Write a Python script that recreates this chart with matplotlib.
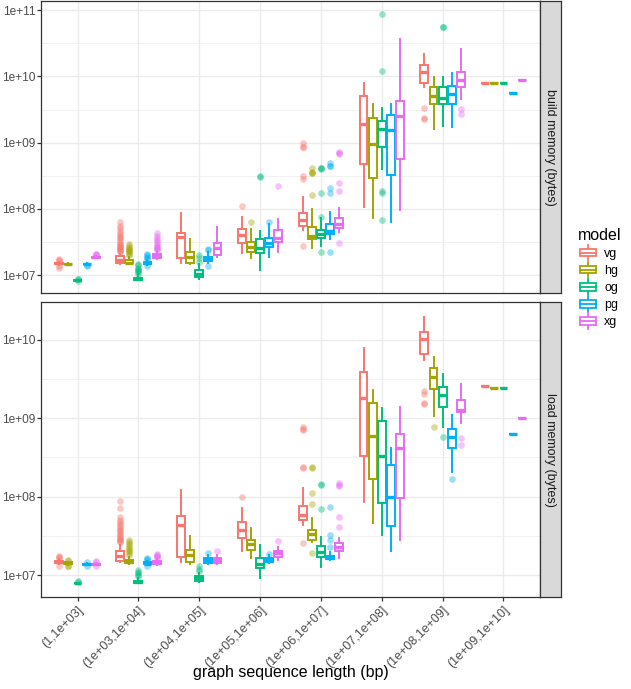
import matplotlib
matplotlib.use("Agg")
import matplotlib.pyplot as plt
import numpy as np
from matplotlib.patches import Rectangle, Patch
from matplotlib.lines import Line2D
from matplotlib.legend_handler import HandlerBase
from matplotlib.ticker import FixedLocator, NullFormatter

plt.rcParams['font.family'] = ['Liberation Sans', 'DejaVu Sans']

bins = ["(1,1e+03]", "(1e+03,1e+04]", "(1e+04,1e+05]", "(1e+05,1e+06]",
        "(1e+06,1e+07]", "(1e+07,1e+08]", "(1e+08,1e+09]", "(1e+09,1e+10]"]
models = ["vg", "hg", "og", "pg", "xg"]
colors = ["#F8766D", "#A3A500", "#00BF7D", "#00B0F6", "#E76BF3"]

# each box: (whisker low, q1, median, q3, whisker high), one per bin
build_vg = [(1.42e7, 1.45e7, 1.5e7, 1.55e7, 1.6e7), (1.45e7, 1.5e7, 1.7e7, 1.93e7, 2.1e7),
            (1.5e7, 1.8e7, 3.75e7, 4.4e7, 8.7e7), (2.15e7, 3.1e7, 4e7, 4.9e7, 7.5e7),
            (4.8e7, 5.5e7, 6.8e7, 8.7e7, 1.5e8), (1.07e8, 4.7e8, 1.9e9, 5e9, 8.1e9),
            (6.9e9, 8.1e9, 1.15e10, 1.48e10, 2.2e10), (7.9e9, 7.9e9, 7.9e9, 7.9e9, 7.9e9)]
build_vg_out = [[1.65e7, 1.7e7, 1.75e7, 1.35e7, 1.3e7],
                [2.2e7, 2.3e7, 2.4e7, 2.5e7, 2.6e7, 2.7e7, 2.8e7, 2.9e7, 3.0e7, 3.2e7,
                 3.4e7, 3.6e7, 3.8e7, 4.0e7, 4.3e7, 4.7e7, 5.1e7, 5.5e7, 6.3e7],
                [], [1.1e8], [9.8e8, 8.5e8, 8.6e8, 3.1e8, 2.8e8, 2.8e7], [],
                [3.3e9, 2.3e9, 2.35e9], []]

build_hg = [(1.45e7, 1.46e7, 1.47e7, 1.48e7, 1.5e7), (1.45e7, 1.5e7, 1.55e7, 1.7e7, 1.9e7),
            (1.47e7, 1.5e7, 1.87e7, 2.2e7, 3.5e7), (1.8e7, 2.2e7, 2.65e7, 3.15e7, 4.9e7),
            (2.55e7, 3.5e7, 3.9e7, 5.3e7, 1e8), (7.2e7, 2.9e8, 9.6e8, 2.4e9, 3.8e9),
            (1.6e9, 3.8e9, 5.1e9, 6.9e9, 9.8e9), (7.9e9, 7.9e9, 7.9e9, 7.9e9, 7.9e9)]
build_hg_out = [[], [2.0e7, 2.1e7, 2.2e7, 2.3e7, 2.4e7, 2.5e7, 2.6e7, 2.8e7, 3.0e7],
                [], [6.3e7], [4.1e8, 3.5e8, 3.55e8, 3.45e8, 1.65e8], [], [], []]

build_og = [(8.2e6, 8.25e6, 8.3e6, 8.35e6, 8.4e6), (8.3e6, 8.4e6, 8.7e6, 9.2e6, 1.0e7),
            (8.7e6, 9.3e6, 1.03e7, 1.2e7, 1.45e7), (1.2e7, 2.15e7, 2.55e7, 3.5e7, 4.6e7),
            (2.8e7, 3.7e7, 4.2e7, 4.8e7, 7.2e7), (4e8, 8.5e8, 1.6e9, 2.1e9, 3.3e9),
            (1.8e9, 3.8e9, 4.8e9, 6.9e9, 9.8e9), (7.9e9, 7.9e9, 7.9e9, 7.9e9, 7.9e9)]
build_og_out = [[8.6e6, 8.8e6, 8.1e6],
                [1.05e7, 1.1e7, 1.15e7, 1.2e7, 1.25e7, 1.3e7, 1.4e7, 1.45e7],
                [2e7, 1.8e7, 1.6e7], [3.1e8, 3.05e8],
                [4.1e8, 4.15e8, 4.05e8, 1.75e8, 7.5e7, 2.2e7],
                [8.9e10, 1.23e10, 1.86e8, 1.74e8, 6.8e7], [5.5e10, 5.6e10], []]

build_pg = [(1.43e7, 1.45e7, 1.47e7, 1.49e7, 1.5e7), (1.4e7, 1.45e7, 1.5e7, 1.6e7, 1.7e7),
            (1.5e7, 1.62e7, 1.74e7, 1.87e7, 2.2e7), (1.87e7, 2.65e7, 3.05e7, 3.7e7, 6e7),
            (3.5e7, 4.2e7, 4.6e7, 5.9e7, 8.9e7), (6.3e7, 3.2e8, 1.55e9, 2.6e9, 3.9e9),
            (1.7e9, 3.8e9, 5.4e9, 7.1e9, 1.12e10), (5.6e9, 5.6e9, 5.6e9, 5.6e9, 5.6e9)]
build_pg_out = [[1.38e7, 1.4e7], [1.35e7, 1.75e7, 1.8e7, 1.9e7, 2.0e7, 2.1e7],
                [2.5e7, 2.4e7, 1.38e7], [6.3e7],
                [4.9e8, 4.4e8, 4.5e8, 2.05e8, 1.75e8, 2.2e7], [], [], []]

build_xg = [(1.8e7, 1.83e7, 1.87e7, 1.9e7, 1.93e7), (1.75e7, 1.8e7, 1.95e7, 2.1e7, 2.3e7),
            (1.87e7, 2e7, 2.55e7, 3.05e7, 5.3e7), (2.2e7, 3.15e7, 3.7e7, 4.8e7, 7e7),
            (4.5e7, 5.1e7, 6e7, 7.4e7, 1.03e8), (9.6e7, 5.6e8, 2.5e9, 4.2e9, 3.7e10),
            (4.5e9, 6.9e9, 8.7e9, 1.15e10, 2.6e10), (8.7e9, 8.7e9, 8.7e9, 8.7e9, 8.7e9)]
build_xg_out = [[2.0e7, 2.05e7, 2.1e7],
                [2.4e7, 2.5e7, 2.6e7, 2.7e7, 2.8e7, 3.0e7, 3.2e7, 3.4e7, 3.6e7, 3.9e7, 4.3e7],
                [], [2.2e8], [7.2e8, 6.8e8, 6.9e8, 2.45e8, 1.85e8, 3.05e7], [],
                [3.2e9, 2.75e9], []]

load_vg = [(1.38e7, 1.42e7, 1.47e7, 1.52e7, 1.6e7), (1.45e7, 1.5e7, 1.75e7, 2.0e7, 2.4e7),
           (1.47e7, 1.7e7, 4.3e7, 5.6e7, 1.2e8), (2.0e7, 3.0e7, 3.7e7, 4.7e7, 7.1e7),
           (4.3e7, 5.0e7, 5.8e7, 7.6e7, 1.3e8), (8.5e7, 3.3e8, 1.8e9, 3.9e9, 7.8e9),
           (5.5e9, 6.6e9, 1.02e10, 1.26e10, 1.95e10), (2.6e9, 2.6e9, 2.6e9, 2.6e9, 2.6e9)]
load_vg_out = [[1.65e7, 1.7e7, 1.75e7, 1.3e7],
               [2.6e7, 2.7e7, 2.8e7, 2.9e7, 3.0e7, 3.1e7, 3.2e7, 3.4e7, 3.6e7, 3.8e7,
                4.0e7, 4.2e7, 4.5e7, 4.8e7, 5.1e7, 5.5e7, 7.1e7, 8.8e7],
               [], [1.0e8], [7.7e8, 7.1e8, 7.2e8, 2.4e8, 2.3e8, 2.55e7], [],
               [2.2e9, 2.0e9, 1.55e9, 1.5e9], []]

load_hg = [(1.36e7, 1.39e7, 1.42e7, 1.45e7, 1.48e7), (1.38e7, 1.42e7, 1.45e7, 1.55e7, 1.7e7),
           (1.38e7, 1.47e7, 1.8e7, 2.1e7, 3.1e7), (1.65e7, 2.1e7, 2.5e7, 2.8e7, 4e7),
           (2.6e7, 2.8e7, 3.3e7, 3.7e7, 5.3e7), (4.6e7, 1.66e8, 5.9e8, 1.55e9, 2.3e9),
           (1.07e9, 2.35e9, 3.3e9, 4.4e9, 6e9), (2.45e9, 2.45e9, 2.45e9, 2.45e9, 2.45e9)]
load_hg_out = [[1.3e7, 1.32e7, 1.52e7, 1.55e7],
               [1.8e7, 1.9e7, 2.0e7, 2.1e7, 2.2e7, 2.35e7, 2.5e7, 2.65e7, 2.8e7],
               [], [], [2.3e8, 2.35e8, 1.1e8, 8e7, 1.9e7], [], [7.8e8], []]

load_og = [(7.8e6, 7.85e6, 7.9e6, 7.95e6, 8.0e6), (7.8e6, 7.9e6, 8.1e6, 8.5e6, 9.2e6),
           (8.1e6, 8.4e6, 9.2e6, 9.7e6, 1.05e7), (9.2e6, 1.23e7, 1.38e7, 1.65e7, 2.4e7),
           (1.26e7, 1.7e7, 1.96e7, 2.35e7, 3.05e7), (3.2e7, 8.3e7, 3.3e8, 9.1e8, 1.35e9),
           (7.8e8, 1.4e9, 1.95e9, 2.5e9, 3.6e9), (2.4e9, 2.4e9, 2.4e9, 2.4e9, 2.4e9)]
load_og_out = [[8.2e6, 8.4e6], [9.6e6, 1.0e7, 1.05e7, 1.09e7, 1.15e7],
               [1.3e7, 1.2e7, 1.12e7], [], [1.45e8, 1.42e8, 6.9e7], [], [5.8e8], []]

load_pg = [(1.34e7, 1.36e7, 1.38e7, 1.4e7, 1.42e7), (1.36e7, 1.38e7, 1.4e7, 1.45e7, 1.5e7),
           (1.38e7, 1.42e7, 1.55e7, 1.65e7, 1.8e7), (1.42e7, 1.47e7, 1.55e7, 1.65e7, 1.8e7),
           (1.55e7, 1.6e7, 1.65e7, 1.75e7, 1.96e7), (2.0e7, 4.2e7, 9.8e7, 2.5e8, 4.2e8),
           (2.05e8, 4.2e8, 5.8e8, 7.2e8, 1.1e9), (6.3e8, 6.3e8, 6.3e8, 6.3e8, 6.3e8)]
load_pg_out = [[1.3e7, 1.45e7], [1.32e7, 1.55e7, 1.6e7, 1.65e7], [1.9e7], [1.85e7],
               [7.3e7, 3.2e7, 2.8e7, 2.27e7], [], [1.66e8], []]

load_xg = [(1.34e7, 1.36e7, 1.38e7, 1.4e7, 1.42e7), (1.36e7, 1.38e7, 1.42e7, 1.5e7, 1.6e7),
           (1.38e7, 1.42e7, 1.55e7, 1.65e7, 1.8e7), (1.55e7, 1.7e7, 1.9e7, 2.0e7, 2.3e7),
           (1.65e7, 2.0e7, 2.27e7, 2.55e7, 2.95e7), (2.8e7, 9.6e7, 4.1e8, 6.3e8, 1.38e9),
           (8.7e8, 1.2e9, 1.26e9, 1.7e9, 2.7e9), (1.0e9, 1.0e9, 1.0e9, 1.0e9, 1.0e9)]
load_xg_out = [[1.45e7, 1.5e7, 1.3e7], [1.65e7, 1.7e7, 1.75e7, 1.8e7, 1.85e7], [2.0e7],
               [2.7e7], [1.5e8, 1.35e8, 1.4e8, 5.5e7, 4.1e7], [], [5.6e8, 4.6e8], []]


class BoxKey(HandlerBase):
    # legend key that looks like a little boxplot
    def create_artists(self, legend, orig_handle, xdescent, ydescent, width, height, fontsize, trans):
        c = orig_handle.get_edgecolor()
        x0, y0 = -xdescent, -ydescent
        cx = x0 + width / 2
        lw = 1.3
        lo = Line2D([cx, cx], [y0, y0 + 0.25 * height], color=c, lw=lw, transform=trans)
        hi = Line2D([cx, cx], [y0 + 0.75 * height, y0 + height], color=c, lw=lw, transform=trans)
        box = Rectangle((x0 + 0.08 * width, y0 + 0.25 * height), 0.84 * width, 0.5 * height,
                        facecolor='white', edgecolor=c, lw=lw, transform=trans)
        med = Line2D([x0 + 0.08 * width, x0 + 0.92 * width], [y0 + height / 2] * 2,
                     color=c, lw=lw, transform=trans)
        return [lo, hi, box, med]


W, H = 631, 689
fig = plt.figure(figsize=(W / 100, H / 100), dpi=100)

panels = [
    ("build memory (bytes)", [build_vg, build_hg, build_og, build_pg, build_xg],
     [build_vg_out, build_hg_out, build_og_out, build_pg_out, build_xg_out],
     (1, 293), (6.73, 11.14), [7, 8, 9, 10, 11]),
    ("load memory (bytes)", [load_vg, load_hg, load_og, load_pg, load_xg],
     [load_vg_out, load_hg_out, load_og_out, load_pg_out, load_xg_out],
     (302, 597), (6.72, 10.48), [7, 8, 9, 10]),
]

left, right = 41, 540
x = np.arange(1, len(bins) + 1)

for i, (strip, stats, outs, (top, bot), (ylo, yhi), decades) in enumerate(panels):
    ax = fig.add_axes([left / W, 1 - bot / H, (right - left) / W, (bot - top) / H])
    for m, (st, ou, c) in enumerate(zip(stats, outs, colors)):
        dd = [dict(whislo=s[0], q1=s[1], med=s[2], q3=s[3], whishi=s[4], fliers=o)
              for s, o in zip(st, ou)]
        ax.bxp(dd, positions=x + (m - 2) * 0.15, widths=0.13, patch_artist=True,
               showcaps=False, manage_ticks=False,
               boxprops=dict(facecolor='white', edgecolor=c, linewidth=1.4),
               whiskerprops=dict(color=c, linewidth=1.4),
               medianprops=dict(color=c, linewidth=2.4, solid_capstyle='butt'),
               flierprops=dict(marker='o', markerfacecolor=c, markeredgecolor='none',
                               markersize=4.8, alpha=0.4))
    ax.set_yscale('log')
    ax.set_ylim(10 ** ylo, 10 ** yhi)
    ax.set_xlim(0.4, len(bins) + 0.6)
    ax.yaxis.set_major_locator(FixedLocator([10.0 ** d for d in decades]))
    ax.set_yticklabels(["1e+%02d" % d for d in decades])
    ax.yaxis.set_minor_locator(FixedLocator([10.0 ** (d + 0.5) for d in range(6, 12)]))
    ax.yaxis.set_minor_formatter(NullFormatter())
    ax.set_xticks(x)
    ax.grid(True, which='major', color='#EBEBEB', lw=1.0)
    ax.grid(True, which='minor', axis='y', color='#EBEBEB', lw=0.5)
    ax.set_axisbelow(True)
    for sp in ax.spines.values():
        sp.set_color('#333333')
        sp.set_linewidth(0.9)
    ax.tick_params(which='major', color='#333333', length=2.75, width=0.9,
                   labelcolor='#4D4D4D', labelsize=8.6, pad=1.5)
    ax.tick_params(which='minor', length=0)
    if i == 0:
        ax.tick_params(axis='x', length=0, labelbottom=False)
    else:
        ax.tick_params(axis='x', labelsize=9, pad=2)
        ax.set_xticklabels(bins, rotation=45, ha='right', va='top', rotation_mode='anchor')

    # facet strip on the right
    sa = fig.add_axes([right / W, 1 - bot / H, 21 / W, (bot - top) / H])
    sa.set_facecolor('#D9D9D9')
    sa.set_xticks([])
    sa.set_yticks([])
    for sp in sa.spines.values():
        sp.set_color('#333333')
        sp.set_linewidth(0.9)
    sa.text(0.5, 0.5, strip, rotation=270, ha='center', va='center',
            fontsize=9, color='#1A1A1A', transform=sa.transAxes)

fig.text((left + right) / 2 / W, 1 - 672 / H, "graph sequence length (bp)",
         ha='center', va='center', fontsize=11.5, color='black')

handles = [Patch(edgecolor=c, facecolor='white') for c in colors]
fig.legend(handles, models, title="model", loc='upper left',
           bbox_to_anchor=(578 / W, 1 - 228 / H), frameon=False,
           handler_map={Patch: BoxKey()}, fontsize=9, title_fontsize=11.5,
           handlelength=1.6, handleheight=1.5, labelspacing=0.15,
           handletextpad=0.5, borderpad=0, borderaxespad=0, alignment='left')

fig.savefig("out.png", dpi=100)
